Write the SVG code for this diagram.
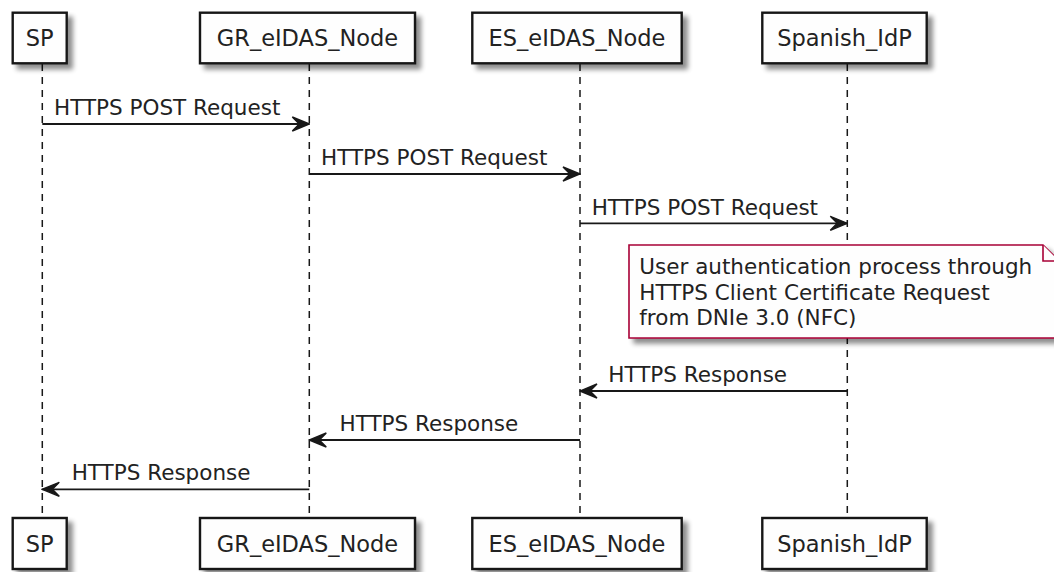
<svg xmlns="http://www.w3.org/2000/svg" width="1054" height="572" viewBox="0 0 1054 572">
  <defs>
    <filter id="shadow" x="-10%" y="-10%" width="130%" height="140%">
      <feGaussianBlur in="SourceAlpha" stdDeviation="2.5" result="blur"/>
      <feOffset in="blur" dx="5" dy="5" result="off"/>
      <feComponentTransfer in="off" result="soft">
        <feFuncA type="linear" slope="0.45"/>
      </feComponentTransfer>
      <feMerge>
        <feMergeNode in="soft"/>
        <feMergeNode in="SourceGraphic"/>
      </feMerge>
    </filter>
    <marker id="head" viewBox="0 0 20 16" refX="19" refY="8" markerWidth="20" markerHeight="16" markerUnits="userSpaceOnUse" orient="auto">
      <polygon points="19,8 2,1 9,8 2,15" fill="#181818" stroke="#181818" stroke-width="1.4" stroke-linejoin="miter"/>
    </marker>
  </defs>
  <style>
    .box { fill: #FEFEFE; stroke: #181818; stroke-width: 2.4; }
    .plabel { font-family: "DejaVu Sans", Verdana, sans-serif; font-size: 22.5px; fill: #222; text-anchor: middle; }
    .life { stroke: #181818; stroke-width: 1.5; stroke-dasharray: 7 6; fill: none; }
    .msg { stroke: #181818; stroke-width: 1.8; fill: none; marker-end: url(#head); }
    .mlabel { font-family: "DejaVu Sans", Verdana, sans-serif; font-size: 21.5px; fill: #222; }
    .note { fill: #FEFEFE; stroke: #A80036; stroke-width: 1.6; }
  </style>

  <!-- lifelines -->
  <g id="lifelines">
    <line class="life" x1="42.3" y1="64" x2="42.3" y2="518"/>
    <line class="life" x1="309.3" y1="64" x2="309.3" y2="518"/>
    <line class="life" x1="580" y1="64" x2="580" y2="518"/>
    <line class="life" x1="847.3" y1="64" x2="847.3" y2="518"/>
  </g>

  <!-- participants, top row -->
  <g id="sp-top">
    <rect class="box" x="12.7" y="12.7" width="54" height="50.6" filter="url(#shadow)"/>
    <text class="plabel" x="39.7" y="46">SP</text>
  </g>
  <g id="gr-top">
    <rect class="box" x="200" y="12.7" width="215" height="50.6" filter="url(#shadow)"/>
    <text class="plabel" x="307.5" y="46">GR_eIDAS_Node</text>
  </g>
  <g id="es-top">
    <rect class="box" x="472.3" y="12.7" width="209.4" height="50.6" filter="url(#shadow)"/>
    <text class="plabel" x="577" y="46">ES_eIDAS_Node</text>
  </g>
  <g id="idp-top">
    <rect class="box" x="762.3" y="12.7" width="164.4" height="50.6" filter="url(#shadow)"/>
    <text class="plabel" x="844.5" y="46">Spanish_IdP</text>
  </g>

  <!-- participants, bottom row -->
  <g id="sp-bottom">
    <rect class="box" x="12.7" y="518" width="54" height="51" filter="url(#shadow)"/>
    <text class="plabel" x="39.7" y="551.5">SP</text>
  </g>
  <g id="gr-bottom">
    <rect class="box" x="200" y="518" width="215" height="51" filter="url(#shadow)"/>
    <text class="plabel" x="307.5" y="551.5">GR_eIDAS_Node</text>
  </g>
  <g id="es-bottom">
    <rect class="box" x="472.3" y="518" width="209.4" height="51" filter="url(#shadow)"/>
    <text class="plabel" x="577" y="551.5">ES_eIDAS_Node</text>
  </g>
  <g id="idp-bottom">
    <rect class="box" x="762.3" y="518" width="164.4" height="51" filter="url(#shadow)"/>
    <text class="plabel" x="844.5" y="551.5">Spanish_IdP</text>
  </g>

  <!-- messages -->
  <g id="connectors">
    <line class="msg" x1="42.3" y1="124" x2="309.3" y2="124"/>
    <text class="mlabel" x="54" y="115">HTTPS POST Request</text>

    <line class="msg" x1="309.3" y1="174" x2="580" y2="174"/>
    <text class="mlabel" x="321" y="165">HTTPS POST Request</text>

    <line class="msg" x1="580" y1="223.3" x2="847.3" y2="223.3"/>
    <text class="mlabel" x="591.7" y="214.5">HTTPS POST Request</text>

    <line class="msg" x1="847.3" y1="391" x2="580" y2="391"/>
    <text class="mlabel" x="608.3" y="381.7">HTTPS Response</text>

    <line class="msg" x1="580" y1="440" x2="309.3" y2="440"/>
    <text class="mlabel" x="339.5" y="430.5">HTTPS Response</text>

    <line class="msg" x1="309.3" y1="489.3" x2="42.3" y2="489.3"/>
    <text class="mlabel" x="71.7" y="479.5">HTTPS Response</text>
  </g>

  <!-- note over the identity provider -->
  <g id="note">
    <path class="note" d="M629,245 H1043 L1059,261 V338 H629 Z" filter="url(#shadow)"/>
    <path class="note" d="M1043,245 V261 H1059" fill="none"/>
    <text class="mlabel" x="639.3" y="274.3">User authentication process through</text>
    <text class="mlabel" x="639.3" y="300">HTTPS Client Certificate Request</text>
    <text class="mlabel" x="639.3" y="325.3">from DNIe 3.0 (NFC)</text>
  </g>
</svg>
